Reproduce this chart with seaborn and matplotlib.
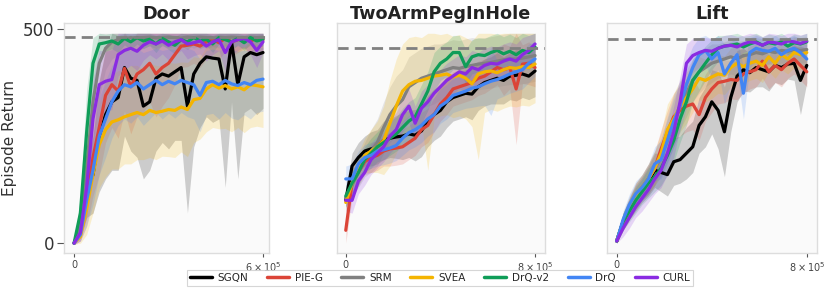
import numpy as np
import pandas as pd
import matplotlib
matplotlib.use("Agg")
import matplotlib.pyplot as plt
import seaborn as sns

methods = ["SGQN", "PIE-G", "SRM", "SVEA", "DrQ-v2", "DrQ", "CURL"]
colors = ["#000000", "#DB4437", "#808080", "#F4B400", "#0F9D58", "#4285F4", "#8A2BE2"]
tasks = ["Door", "TwoArmPegInHole", "Lift"]
task_max_steps = [6e5, 8e5, 8e5]
task_best = [482, 455, 476]
xtick_labels = [["0", r"$6\times10^{5}$"], ["0", r"$8\times10^{5}$"], ["0", r"$8\times10^{5}$"]]
n_points = 31

# ---------------- Door ----------------
door_sgqn = [0, 30, 120, 160, 250, 300, 330, 340, 410, 385, 380, 320, 330, 385, 395, 390, 400, 410, 320, 395, 420, 435, 432, 430, 360, 470, 370, 435, 445, 440, 445]
door_pieg = [0, 20, 100, 200, 270, 345, 370, 355, 408, 365, 395, 405, 420, 395, 410, 420, 440, 460, 462, 465, 460, 470, 475, 468, 478, 470, 475, 480, 472, 478, 475]
door_srm = [0, 40, 180, 330, 420, 455, 470, 475, 478, 480, 478, 480, 481, 479, 480, 481, 480, 479, 481, 480, 481, 480, 479, 481, 480, 481, 480, 479, 481, 480, 481]
door_svea = [0, 15, 80, 160, 230, 265, 283, 288, 295, 300, 305, 300, 310, 305, 308, 312, 310, 318, 312, 335, 338, 360, 370, 362, 368, 360, 365, 358, 370, 368, 365]
door_drqv2 = [0, 70, 260, 420, 465, 468, 472, 465, 478, 470, 480, 472, 476, 465, 478, 470, 462, 475, 470, 480, 472, 476, 465, 480, 475, 470, 478, 468, 480, 472, 476]
door_drq = [0, 20, 100, 170, 250, 290, 330, 355, 370, 365, 375, 360, 370, 380, 370, 378, 372, 380, 375, 370, 345, 375, 378, 370, 380, 372, 368, 375, 370, 380, 383]
door_curl = [0, 25, 130, 290, 370, 378, 382, 440, 450, 455, 448, 462, 470, 465, 472, 462, 470, 475, 465, 468, 472, 460, 470, 475, 445, 470, 475, 478, 470, 450, 470]

door_sgqn_sd = [3, 15, 60, 90, 130, 150, 160, 170, 160, 170, 180, 170, 160, 170, 160, 170, 160, 170, 250, 170, 150, 140, 150, 140, 230, 140, 220, 130, 130, 140, 130]
door_pieg_sd = [3, 15, 60, 90, 110, 110, 100, 110, 100, 110, 100, 100, 90, 100, 90, 80, 70, 50, 50, 45, 50, 40, 35, 40, 30, 35, 30, 25, 30, 25, 30]
door_srm_sd = [3, 20, 80, 100, 80, 50, 40, 35, 30, 25, 30, 25, 20, 25, 20, 25, 20, 25, 20, 25, 20, 25, 20, 25, 20, 25, 20, 25, 20, 25, 20]
door_svea_sd = [3, 15, 60, 90, 100, 110, 110, 115, 110, 115, 110, 105, 110, 110, 105, 110, 110, 105, 110, 100, 95, 100, 100, 95, 100, 100, 95, 100, 100, 95, 95]
door_drqv2_sd = [3, 40, 100, 60, 25, 20, 18, 20, 15, 18, 15, 18, 15, 20, 15, 18, 20, 15, 18, 15, 18, 15, 20, 15, 18, 20, 15, 18, 15, 18, 15]
door_drq_sd = [3, 15, 60, 80, 90, 90, 85, 80, 80, 85, 80, 85, 80, 75, 80, 75, 80, 75, 80, 80, 85, 75, 75, 80, 75, 80, 80, 75, 80, 75, 75]
door_curl_sd = [3, 20, 70, 90, 80, 70, 70, 50, 45, 40, 45, 35, 30, 35, 30, 35, 30, 25, 35, 30, 30, 35, 30, 25, 45, 30, 25, 20, 30, 40, 25]

# ---------------- TwoArmPegInHole ----------------
peg_sgqn = [100, 180, 200, 215, 220, 225, 240, 245, 248, 250, 255, 252, 262, 285, 300, 310, 330, 340, 345, 350, 348, 365, 375, 380, 385, 380, 390, 392, 395, 390, 402]
peg_pieg = [30, 140, 165, 190, 200, 205, 215, 220, 222, 225, 235, 245, 265, 275, 300, 325, 340, 360, 365, 370, 375, 385, 390, 400, 410, 405, 410, 360, 418, 420, 410]
peg_srm = [105, 135, 165, 195, 215, 235, 270, 300, 320, 335, 365, 375, 385, 390, 395, 400, 405, 410, 408, 412, 415, 418, 420, 422, 425, 428, 430, 430, 432, 435, 438]
peg_svea = [95, 140, 175, 205, 215, 225, 240, 280, 320, 355, 370, 378, 380, 385, 390, 392, 395, 388, 392, 385, 372, 395, 400, 402, 398, 405, 410, 408, 412, 410, 418]
peg_drqv2 = [110, 140, 165, 195, 210, 225, 235, 245, 255, 270, 285, 295, 325, 355, 400, 420, 430, 445, 445, 412, 435, 440, 438, 445, 450, 442, 448, 440, 450, 445, 458]
peg_drq = [150, 150, 185, 200, 205, 215, 218, 222, 228, 245, 258, 265, 275, 290, 300, 320, 330, 345, 350, 355, 362, 365, 372, 378, 382, 388, 395, 400, 405, 420, 430]
peg_curl = [100, 100, 145, 165, 195, 210, 225, 250, 265, 300, 320, 280, 315, 330, 350, 365, 380, 390, 400, 395, 410, 405, 415, 420, 418, 425, 430, 425, 440, 450, 465]

peg_sgqn_sd = [20, 30, 35, 35, 40, 40, 45, 45, 50, 55, 55, 60, 60, 60, 60, 60, 60, 55, 55, 55, 60, 55, 55, 55, 60, 55, 55, 60, 55, 55, 60]
peg_pieg_sd = [30, 35, 30, 30, 35, 35, 35, 40, 40, 40, 40, 40, 40, 40, 40, 40, 40, 40, 40, 40, 40, 40, 40, 40, 40, 60, 50, 130, 45, 50, 45]
peg_srm_sd = [20, 30, 35, 40, 50, 55, 60, 65, 70, 70, 70, 70, 70, 70, 70, 65, 65, 65, 65, 65, 65, 60, 60, 60, 60, 60, 60, 60, 60, 60, 60]
peg_svea_sd = [20, 30, 35, 40, 50, 60, 80, 100, 110, 110, 110, 105, 100, 215, 100, 95, 95, 95, 95, 95, 100, 200, 95, 90, 90, 90, 90, 90, 90, 90, 90]
peg_drqv2_sd = [25, 30, 30, 30, 35, 35, 40, 40, 40, 45, 45, 45, 45, 45, 45, 40, 40, 40, 40, 40, 40, 40, 40, 40, 40, 40, 40, 40, 40, 40, 35]
peg_drq_sd = [30, 35, 30, 30, 30, 35, 35, 35, 35, 40, 40, 40, 40, 40, 40, 40, 40, 40, 40, 40, 45, 45, 50, 80, 45, 45, 45, 45, 45, 45, 40]
peg_curl_sd = [25, 30, 30, 30, 35, 35, 35, 40, 40, 40, 40, 40, 40, 40, 40, 40, 40, 40, 40, 40, 40, 40, 40, 40, 40, 40, 40, 40, 40, 35, 30]

# ---------------- Lift ----------------
lift_sgqn = [5, 50, 80, 105, 125, 145, 170, 165, 160, 190, 195, 210, 225, 275, 295, 330, 310, 260, 340, 390, 405, 398, 410, 405, 400, 415, 410, 418, 420, 380, 415]
lift_pieg = [5, 50, 80, 110, 130, 150, 175, 220, 260, 295, 310, 320, 325, 300, 340, 360, 375, 378, 382, 380, 395, 400, 405, 425, 400, 415, 405, 420, 430, 415, 400]
lift_srm = [5, 50, 85, 110, 130, 150, 175, 200, 240, 280, 320, 350, 380, 400, 410, 420, 425, 430, 435, 430, 438, 440, 445, 442, 448, 445, 450, 448, 452, 450, 452]
lift_svea = [5, 50, 80, 110, 130, 150, 175, 210, 265, 290, 320, 340, 360, 385, 380, 388, 395, 392, 410, 420, 412, 420, 425, 415, 435, 420, 440, 430, 445, 440, 445]
lift_drqv2 = [5, 50, 75, 100, 120, 140, 155, 175, 205, 240, 290, 330, 380, 400, 420, 440, 455, 460, 462, 465, 458, 465, 470, 462, 468, 465, 470, 460, 468, 465, 470]
lift_drq = [5, 55, 90, 115, 130, 150, 185, 195, 240, 285, 320, 370, 410, 440, 450, 430, 445, 395, 420, 440, 350, 445, 455, 450, 448, 455, 440, 450, 455, 445, 430]
lift_curl = [5, 35, 60, 85, 105, 125, 150, 170, 210, 260, 330, 420, 438, 445, 450, 448, 455, 460, 462, 458, 465, 470, 468, 462, 470, 468, 465, 472, 470, 466, 472]

lift_sgqn_sd = [5, 20, 25, 30, 30, 35, 40, 45, 50, 55, 55, 60, 60, 65, 70, 75, 90, 105, 80, 60, 50, 45, 45, 40, 45, 40, 40, 35, 40, 80, 40]
lift_pieg_sd = [5, 20, 25, 30, 30, 35, 40, 45, 50, 55, 60, 60, 60, 60, 55, 55, 50, 50, 45, 45, 45, 40, 40, 40, 40, 40, 40, 35, 35, 35, 35]
lift_srm_sd = [5, 20, 25, 30, 30, 35, 40, 45, 50, 55, 55, 55, 50, 50, 45, 45, 40, 40, 40, 40, 35, 35, 35, 35, 30, 30, 30, 30, 30, 30, 30]
lift_svea_sd = [5, 20, 25, 30, 30, 35, 40, 50, 60, 60, 60, 60, 55, 50, 50, 50, 45, 45, 45, 40, 40, 40, 40, 40, 35, 35, 35, 35, 35, 35, 35]
lift_drqv2_sd = [5, 20, 25, 30, 30, 35, 35, 40, 45, 50, 55, 55, 50, 45, 40, 35, 30, 25, 25, 25, 25, 20, 20, 20, 20, 20, 20, 20, 20, 20, 20]
lift_drq_sd = [5, 20, 25, 30, 30, 35, 40, 45, 55, 60, 60, 55, 50, 40, 35, 45, 40, 70, 50, 40, 60, 35, 30, 30, 30, 30, 35, 30, 30, 30, 35]
lift_curl_sd = [5, 20, 25, 25, 30, 30, 35, 40, 50, 60, 60, 45, 40, 35, 30, 30, 25, 25, 25, 25, 20, 20, 20, 20, 20, 20, 20, 20, 20, 20, 20]

means = {
    "Door": [door_sgqn, door_pieg, door_srm, door_svea, door_drqv2, door_drq, door_curl],
    "TwoArmPegInHole": [peg_sgqn, peg_pieg, peg_srm, peg_svea, peg_drqv2, peg_drq, peg_curl],
    "Lift": [lift_sgqn, lift_pieg, lift_srm, lift_svea, lift_drqv2, lift_drq, lift_curl],
}
spreads = {
    "Door": [door_sgqn_sd, door_pieg_sd, door_srm_sd, door_svea_sd, door_drqv2_sd, door_drq_sd, door_curl_sd],
    "TwoArmPegInHole": [peg_sgqn_sd, peg_pieg_sd, peg_srm_sd, peg_svea_sd, peg_drqv2_sd, peg_drq_sd, peg_curl_sd],
    "Lift": [lift_sgqn_sd, lift_pieg_sd, lift_srm_sd, lift_svea_sd, lift_drqv2_sd, lift_drq_sd, lift_curl_sd],
}

sns.set_theme(style="ticks")
plt.rcParams["font.family"] = ["DejaVu Sans"]

fig = plt.figure(figsize=(8.31, 2.94), dpi=100)
rects = [
    (64 / 831, 1 - 253 / 294, 205 / 831, 230 / 294),
    (337 / 831, 1 - 253 / 294, 208 / 831, 230 / 294),
    (607 / 831, 1 - 253 / 294, 210 / 831, 230 / 294),
]
xlims = [(-3.2e4, 6.19e5), (-3.7e4, 8.42e5), (-4.1e4, 8.43e5)]
palette = dict(zip(methods, colors))

for i, task in enumerate(tasks):
    ax = fig.add_axes(rects[i])
    ax.set_facecolor("#fafafa")
    steps = np.linspace(0, task_max_steps[i], n_points)
    rows = []
    for m, mean in zip(methods, means[task]):
        for s, v in zip(steps, mean):
            rows.append({"step": s, "ret": v, "method": m})
    df = pd.DataFrame(rows)
    for m, mean, sd, c in zip(methods, means[task], spreads[task], colors):
        mean = np.asarray(mean, float)
        sd = np.asarray(sd, float)
        ax.fill_between(steps, mean - sd, np.minimum(mean + sd, 490), color=c, alpha=0.18, lw=0)
    sns.lineplot(data=df, x="step", y="ret", hue="method", hue_order=methods,
                 palette=palette, lw=2.3, ax=ax, legend=False)
    ax.axhline(task_best[i], color="#808080", ls=(0, (4, 2.2)), lw=2)
    ax.set_xlim(*xlims[i])
    ax.set_ylim(-23, 514)
    ax.set_xticks([0, task_max_steps[i]])
    ax.set_xticklabels(xtick_labels[i], fontsize=7, color="#444444")
    ax.set_title(task, fontsize=12.7, fontweight="bold", color="#222222", pad=3)
    ax.set_xlabel("")
    for sp in ax.spines.values():
        sp.set_color("#dddddd")
        sp.set_linewidth(1)
    ax.tick_params(axis="x", length=3, width=0.8, color="#555555", pad=2)
    if i == 0:
        ax.set_yticks([0, 500])
        ax.set_yticklabels(["0", "500"], fontsize=12, color="#333333")
        ax.tick_params(axis="y", length=5, width=0.8, color="#555555", pad=2)
        ax.set_ylabel("Episode Return", fontsize=11, color="#333333", labelpad=4)
    else:
        ax.set_yticks([])
        ax.set_ylabel("")

handles = [plt.Line2D([], [], color=c, lw=2.5) for c in colors]
leg = fig.legend(handles, methods, loc="lower center", ncol=7, bbox_to_anchor=(440 / 831, 0.01),
                 fontsize=7.5, frameon=True, handlelength=2.1, columnspacing=1.8,
                 borderpad=0.3, handletextpad=0.55, fancybox=False)
leg.get_frame().set_edgecolor("#cccccc")
leg.get_frame().set_linewidth(0.8)

fig.savefig("out.png", dpi=100)
